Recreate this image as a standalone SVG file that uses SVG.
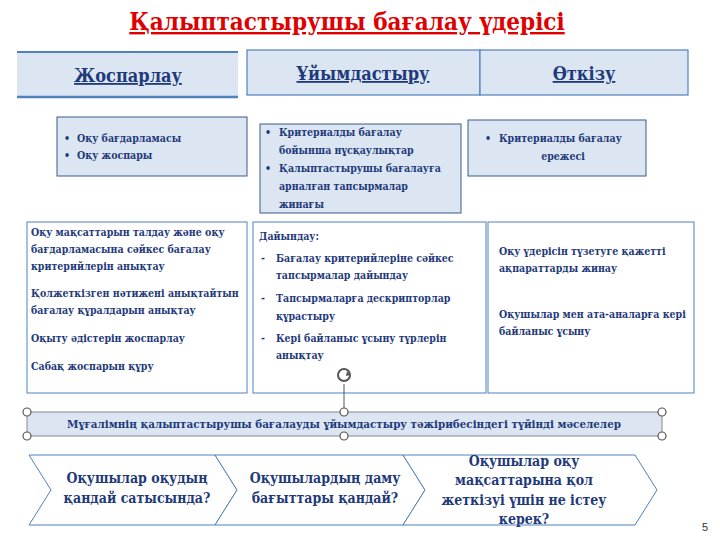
<svg xmlns="http://www.w3.org/2000/svg" width="720" height="540" viewBox="0 0 720 540">
<style>
text{font-family:"DejaVu Serif Condensed","DejaVu Serif","Liberation Serif",serif;font-weight:bold;fill:#1f3a7a}
.h{font-size:18px;text-anchor:middle}
.s{font-size:10.5px}
.c{font-size:14px;text-anchor:middle}
.hd{fill:#dce6f2;stroke:#4f81bd;stroke-width:1.2}
.sb{fill:#dce6f2;stroke:#385d8a;stroke-width:1}
.wb{fill:#fff;stroke:#4f81bd;stroke-width:1}
.hn{fill:#fff;stroke:#555;stroke-width:1.2}
</style>
<text x="347" y="30" style="font-size:24px;fill:#e00000;text-anchor:middle;text-decoration:underline">Қалыптастырушы бағалау үдерісі</text>
<g id="plan"><rect x="17" y="52" width="221" height="45" fill="#dce6f2"/><line x1="17" y1="52" x2="238" y2="52" stroke="#4f81bd" stroke-width="2"/><line x1="17" y1="97" x2="238" y2="97" stroke="#4f81bd" stroke-width="2.5"/><text x="128" y="82" class="h" style="text-decoration:underline">Жоспарлау</text></g>
<g id="org"><rect x="247" y="50" width="233" height="45" class="hd"/><text x="363" y="80" class="h" style="text-decoration:underline">Ұйымдастыру</text></g>
<g id="run"><rect x="480" y="50" width="208" height="45" class="hd"/><text x="584" y="80" class="h" style="text-decoration:underline">Өткізу</text></g>
<g id="s1"><rect x="57" y="117" width="190" height="59" class="sb"/><text class="s" x="64" y="142">•</text><text class="s" x="77" y="142">Оқу бағдарламасы</text><text class="s" x="64" y="159">•</text><text class="s" x="77" y="159">Оқу жоспары</text></g>
<g id="s2"><rect x="260" y="124" width="201" height="89" class="sb"/><text class="s" x="265" y="136">•</text><text class="s" x="279" y="136">Критериалды бағалау</text><text class="s" x="279" y="154">бойынша нұсқаулықтар</text><text class="s" x="265" y="172">•</text><text class="s" x="279" y="172">Қалыптастырушы бағалауға</text><text class="s" x="279" y="190">арналған тапсырмалар</text><text class="s" x="279" y="208">жинағы</text></g>
<g id="s3"><rect x="468" y="120" width="178" height="56" class="sb"/><text class="s" x="485" y="142">•</text><text class="s" x="499" y="142">Критериалды бағалау</text><text class="s" x="563" y="160" text-anchor="middle">ережесі</text></g>
<g id="m1"><rect x="27" y="222" width="220" height="171" class="wb"/>
<text class="s" x="31" y="236">Оқу мақсаттарын талдау және оқу</text><text class="s" x="31" y="253">бағдарламасына сәйкес бағалау</text><text class="s" x="31" y="270">критерийлерін анықтау</text>
<text class="s" x="31" y="297">Қолжеткізген нәтижені анықтайтын</text><text class="s" x="31" y="314">бағалау құралдарын анықтау</text>
<text class="s" x="31" y="342">Оқыту әдістерін жоспарлау</text><text class="s" x="31" y="370">Сабақ жоспарын құру</text></g>
<g id="m2"><rect x="253" y="222" width="233" height="171" class="wb"/>
<text class="s" x="259" y="240">Дайындау:</text>
<text class="s" x="261" y="262">-</text><text class="s" x="276" y="262">Бағалау критерийлеріне сәйкес</text><text class="s" x="276" y="279">тапсырмалар дайындау</text>
<text class="s" x="261" y="302">-</text><text class="s" x="276" y="302">Тапсырмаларға дескрипторлар</text><text class="s" x="276" y="320">құрастыру</text>
<text class="s" x="261" y="342">-</text><text class="s" x="276" y="342">Кері байланыс ұсыну түрлерін</text><text class="s" x="276" y="359">анықтау</text></g>
<g id="m3"><rect x="488" y="222" width="206" height="171" class="wb"/>
<text class="s" x="499" y="255">Оқу үдерісін түзетуге қажетті</text><text class="s" x="499" y="272">ақпараттарды жинау</text>
<text class="s" x="499" y="318">Оқушылар мен ата-аналарға кері</text><text class="s" x="499" y="335">байланыс ұсыну</text></g>
<g id="banner"><rect x="27" y="412" width="635" height="24" fill="#dce6f2" stroke="#888" stroke-width="1"/>
<line x1="344" y1="384" x2="344" y2="412" stroke="#555"/>
<circle cx="344" cy="375" r="6" fill="none" stroke="#555" stroke-width="2"/><path d="M347 371 l3 4 -4 1z" fill="#555"/>
<text x="344" y="428" style="font-size:11.5px;text-anchor:middle">Мұғалімнің қалыптастырушы бағалауды ұйымдастыру тәжірибесіндегі түйінді мәселелер</text>
<circle cx="27" cy="412" r="4" class="hn"/><circle cx="344" cy="412" r="4" class="hn"/><circle cx="662" cy="412" r="4" class="hn"/>
<circle cx="27" cy="436" r="4" class="hn"/><circle cx="344" cy="436" r="4" class="hn"/><circle cx="662" cy="436" r="4" class="hn"/></g>
<g id="chev1"><path d="M29 455 H215 L237 490 L215 525 H29 L51 490Z" fill="#fff" stroke="#4f81bd"/><text class="c" x="137" y="483">Оқушылар оқудың</text><text class="c" x="137" y="503">қандай сатысында?</text></g>
<g id="chev2"><path d="M215 455 H403 L425 490 L403 525 H215 L237 490Z" fill="#fff" stroke="#4f81bd"/><text class="c" x="325" y="483">Оқушылардың даму</text><text class="c" x="325" y="503">бағыттары қандай?</text></g>
<g id="chev3"><path d="M403 455 H635 L657 490 L635 525 H403 L425 490Z" fill="#fff" stroke="#4f81bd"/><text class="c" x="524" y="466">Оқушылар оқу</text><text class="c" x="524" y="485">мақсаттарына қол</text><text class="c" x="524" y="505">жеткізуі үшін не істеу</text><text class="c" x="524" y="524">керек?</text></g>
<text x="702" y="531" style="font-size:11px;font-weight:normal;fill:#333;font-family:'Liberation Sans',sans-serif">5</text>
</svg>
